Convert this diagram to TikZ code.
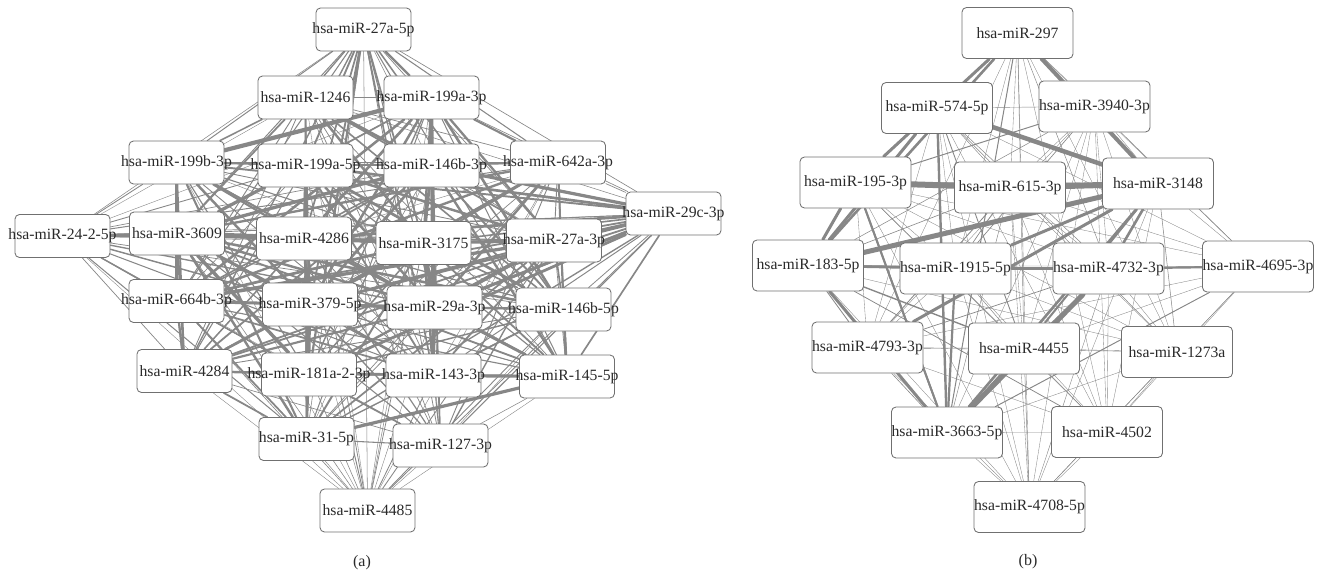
\documentclass[tikz,border=0pt]{standalone}
\usepackage{fontspec}
\setmainfont{Liberation Serif}
\usetikzlibrary{backgrounds}
\definecolor{nodegray}{HTML}{707070}
\definecolor{edgegray}{HTML}{878787}
\definecolor{textgray}{HTML}{2A2A2A}
\newcommand\mirfont{\fontsize{15.7}{18}\selectfont}
\tikzset{
  mirnode/.style={draw=nodegray, line width=0.85pt, rounded corners=4.5pt, fill=white,
    inner sep=0pt, text=textgray, font=\mirfont},
  anode/.style={mirnode, minimum width=95pt, minimum height=43pt},
  bnode/.style={mirnode, minimum width=111pt, minimum height=51pt},
  edge/.style={draw=edgegray, line cap=round},
  panellabel/.style={text=textgray, font=\fontsize{16}{19}\selectfont, inner sep=0pt}
}
\def\Sa{{0.65,0.75,0.95,0.85,1.0,1.0,0.65,0.85,0.45,0.95,1.0,1.0,0.95,0.95,1.0,1.0,0.85,0.65,0.95,0.85,0.75,0.75,0.4,0.3}}
\def\Sb{{0.8,0.9,0.6,0.9,0.8,1.0,0.9,0.9,0.8,0.5,0.8,0.8,0.5,1.0,0.6,0.5}}
\begin{document}
\begin{tikzpicture}[x=1pt,y=-1pt]
\useasboundingbox (0,0) rectangle (1324,575);
% ---------- panel (a)
\node[anode] (a1) at (363.5,29.5) {\makebox[0pt]{hsa-miR-27a-5p}};
\node[anode] (a2) at (305.5,97.5) {\makebox[0pt]{hsa-miR-1246}};
\node[anode] (a3) at (431.5,97.5) {\makebox[0pt]{hsa-miR-199a-3p}};
\node[anode] (a4) at (176.5,162.5) {\makebox[0pt]{hsa-miR-199b-3p}};
\node[anode] (a5) at (305.5,165.5) {\makebox[0pt]{hsa-miR-199a-5p}};
\node[anode] (a6) at (431.5,165.5) {\makebox[0pt]{hsa-miR-146b-3p}};
\node[anode] (a7) at (558,162.5) {\makebox[0pt]{hsa-miR-642a-3p}};
\node[anode] (a8) at (673.5,213.5) {\makebox[0pt]{hsa-miR-29c-3p}};
\node[anode] (a9) at (62.5,236) {\makebox[0pt]{hsa-miR-24-2-5p}};
\node[anode] (a10) at (177,233.5) {\makebox[0pt]{hsa-miR-3609}};
\node[anode] (a11) at (304,238.5) {\makebox[0pt]{hsa-miR-4286}};
\node[anode] (a12) at (423.5,243) {\makebox[0pt]{hsa-miR-3175}};
\node[anode] (a13) at (554,240.5) {\makebox[0pt]{hsa-miR-27a-3p}};
\node[anode] (a14) at (176.5,301) {\makebox[0pt]{hsa-miR-664b-3p}};
\node[anode] (a15) at (310,304.5) {\makebox[0pt]{hsa-miR-379-5p}};
\node[anode] (a16) at (434.5,307.5) {\makebox[0pt]{hsa-miR-29a-3p}};
\node[anode] (a17) at (563.5,309.5) {\makebox[0pt]{hsa-miR-146b-5p}};
\node[anode] (a18) at (184.5,371) {\makebox[0pt]{hsa-miR-4284}};
\node[anode] (a19) at (309,374.5) {\makebox[0pt]{hsa-miR-181a-2-3p}};
\node[anode] (a20) at (433.5,375.5) {\makebox[0pt]{hsa-miR-143-3p}};
\node[anode] (a21) at (567,376.5) {\makebox[0pt]{hsa-miR-145-5p}};
\node[anode] (a22) at (306.5,439) {\makebox[0pt]{hsa-miR-31-5p}};
\node[anode] (a23) at (440.5,445.5) {\makebox[0pt]{hsa-miR-127-3p}};
\node[anode] (a24) at (367.5,510.5) {\makebox[0pt]{hsa-miR-4485}};
\node[panellabel] (la) at (362,563) {(a)};
% ---------- panel (b)
\node[bnode] (b1) at (1017.5,33) {\makebox[0pt]{hsa-miR-297}};
\node[bnode] (b2) at (937,108) {\makebox[0pt]{hsa-miR-574-5p}};
\node[bnode] (b3) at (1094.5,106.5) {\makebox[0pt]{hsa-miR-3940-3p}};
\node[bnode] (b4) at (855.5,182.5) {\makebox[0pt]{hsa-miR-195-3p}};
\node[bnode] (b5) at (1010,187.5) {\makebox[0pt]{hsa-miR-615-3p}};
\node[bnode] (b6) at (1158,183.5) {\makebox[0pt]{hsa-miR-3148}};
\node[bnode] (b7) at (808,265.5) {\makebox[0pt]{hsa-miR-183-5p}};
\node[bnode] (b8) at (955.5,268.5) {\makebox[0pt]{hsa-miR-1915-5p}};
\node[bnode] (b9) at (1108.5,268.5) {\makebox[0pt]{hsa-miR-4732-3p}};
\node[bnode] (b10) at (1258,266.5) {\makebox[0pt]{hsa-miR-4695-3p}};
\node[bnode] (b11) at (867.5,347.5) {\makebox[0pt]{hsa-miR-4793-3p}};
\node[bnode] (b12) at (1024,348.5) {\makebox[0pt]{hsa-miR-4455}};
\node[bnode] (b13) at (1177,352) {\makebox[0pt]{hsa-miR-1273a}};
\node[bnode] (b14) at (947,432.5) {\makebox[0pt]{hsa-miR-3663-5p}};
\node[bnode] (b15) at (1107,432) {\makebox[0pt]{hsa-miR-4502}};
\node[bnode] (b16) at (1029.5,507) {\makebox[0pt]{hsa-miR-4708-5p}};
\node[panellabel] (lb) at (1028,562) {(b)};
% ---------- edges
\begin{scope}[on background layer]
\pgfmathsetseed{11}
\foreach \i in {1,...,23}{
  \foreach \j in {2,...,24}{
    \ifnum\j>\i
      \pgfmathsetmacro\w{max(0.4,3.9*\Sa[\i-1]*\Sa[\j-1]*(0.15+0.85*rnd))}
      \draw[edge, line width=\w pt] (a\i) -- (a\j);
    \fi
  }
}
\foreach \u/\v/\w in {a4/a3/4.2, a10/a11/5, a11/a12/3.8, a9/a10/2.6, a20/a21/3.2,
  a22/a21/3.2, a4/a10/2.2, a10/a14/2.6, a14/a18/2.2, a8/a16/3, a8/a15/2.6,
  a8/a19/2.8, a8/a13/2.6, a17/a21/2.6, a5/a11/2.4, a2/a3/1.2}{
  \draw[edge, line width=\w pt] (\u) -- (\v);
}
\pgfmathsetseed{5}
\foreach \i in {1,...,15}{
  \foreach \j in {2,...,16}{
    \ifnum\j>\i
      \pgfmathsetmacro\w{max(0.35,2.4*\Sb[\i-1]*\Sb[\j-1]*rnd*rnd)}
      \draw[edge, line width=\w pt] (b\i) -- (b\j);
    \fi
  }
}
\foreach \u/\v/\w in {b4/b5/6, b5/b6/6, b2/b6/4.5, b7/b6/5, b8/b6/3, b7/b8/2.6,
  b8/b9/2.2, b9/b10/2.2, b1/b6/4, b1/b4/3, b1/b7/2.6, b2/b7/3, b4/b7/3,
  b14/b9/5, b6/b9/2.6, b6/b14/2.6, b6/b12/2, b11/b6/3, b7/b14/3, b2/b14/2.4,
  b8/b14/2.2, b4/b14/2}{
  \draw[edge, line width=\w pt] (\u) -- (\v);
}
\end{scope}
\end{tikzpicture}
\end{document}
